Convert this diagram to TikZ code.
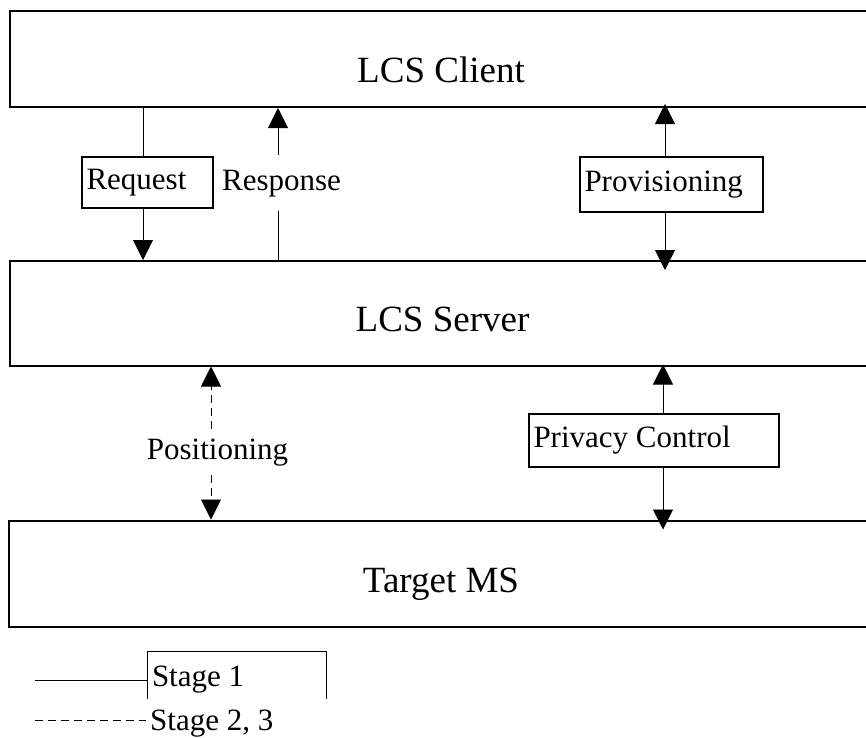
\documentclass[tikz,border=0pt]{standalone}
\usepackage{fontspec}
\setmainfont{Liberation Serif}
\usepackage{tikz}
\usetikzlibrary{arrows.meta,calc}

\tikzset{
    layer/.style={draw, line width=2pt, inner sep=0pt},
    bigtext/.style={anchor=base, inner sep=0pt, font=\fontsize{37}{44}\selectfont},
    tag/.style={draw, line width=1.3pt, inner xsep=4.5pt, inner ysep=0pt, align=flush left,
        text height=21pt, text depth=7pt, font=\fontsize{31}{37}\selectfont},
    note/.style={fill=white, inner xsep=2pt, text height=21pt, text depth=7pt,
        font=\fontsize{31}{37}\selectfont},
    legend/.style={inner xsep=4pt, inner ysep=13pt, align=flush left,
        text height=21pt, text depth=0pt, font=\fontsize{31}{37}\selectfont},
    link/.style={line width=0.9pt},
    tip/.style={-{Triangle[length=20pt,width=20pt]}},
    stagedash/.style={dash pattern=on 8pt off 5pt}
}

\begin{document}
\begin{tikzpicture}[x=1pt, y=-1pt]
            \useasboundingbox (0,0) rectangle (866,737);
            \clip (0,0) rectangle (866,737);

            \node[layer, minimum width=862pt, minimum height=96pt] (CLIENT) at (441,59) {};
            \node[bigtext] (CLIENTT) at (441,82) {LCS Client};
            \node[layer, minimum width=865pt, minimum height=104.5pt] (SERVER) at (442.5,313.25) {};
            \node[bigtext] (SERVERT) at (442.5,331) {LCS Server};
            \node[layer, minimum width=864pt, minimum height=106pt] (TARGET) at (441,573.5) {};
            \node[bigtext] (TARGETT) at (441,592) {Target MS};

            \node[tag, text width=122pt, minimum height=51pt] (REQ) at (147.5,182.5) {Request};
            \node[note, inner ysep=13.5pt] (RESP) at (281.5,183) {Response};
            \node[tag, text width=174pt, minimum height=55pt] (PROV) at (671.5,184.5) {Provisioning};
            \node[note, inner ysep=9pt] (POS) at (217.5,452) {Positioning};
            \node[tag, text width=241pt, minimum height=53pt] (PRIV) at (654,440.5) {Privacy Control};

            \draw[link] ([xshift=-4.5pt]REQ.north) -- ([xshift=-4.5pt]REQ.north |- CLIENT.south);
            \draw[link, tip] ([xshift=-4.5pt]REQ.south) -- ([xshift=-4.5pt]REQ.south |- SERVER.north);

            \draw[link] ([xshift=-3.5pt]RESP.south) -- ([xshift=-3.5pt]RESP.south |- SERVER.north);
            \draw[link, tip] ([xshift=-3.5pt]RESP.north) -- ([xshift=-3.5pt]RESP.north |- CLIENT.south);

            \draw[link, tip, shorten >=-4pt] ([xshift=-6.5pt]PROV.north) -- ([xshift=-6.5pt]PROV.north |- CLIENT.south);
            \draw[link, tip, shorten >=-10pt] ([xshift=-6.5pt]PROV.south) -- ([xshift=-6.5pt]PROV.south |- SERVER.north);

            \draw[link, stagedash, tip] ([xshift=-6.5pt]POS.north) -- ([xshift=-6.5pt]POS.north |- SERVER.south);
            \draw[link, stagedash, tip] ([xshift=-6.5pt]POS.south) -- ([xshift=-6.5pt]POS.south |- TARGET.north);

            \draw[link, tip, shorten >=-2pt] ([xshift=9pt]PRIV.north) -- ([xshift=9pt]PRIV.north |- SERVER.south);
            \draw[link, tip, shorten >=-10pt] ([xshift=9pt]PRIV.south) -- ([xshift=9pt]PRIV.south |- TARGET.north);

            \node[legend, text width=170pt] (STAGE1) at (237,675.5) {Stage 1};
            \node[anchor=base west, inner sep=0pt, font=\fontsize{31}{37}\selectfont] (STAGE2) at (150,730) {Stage 2, 3};
            \coordinate (S1) at (35,680);
            \coordinate (S2) at (35,720);

            \draw[line width=1.3pt] (STAGE1.south west) |- (STAGE1.north east) -- (STAGE1.south east);
            \draw[link] (S1) -- (S1 -| STAGE1.west);
            \draw[link, stagedash] (S2) -- ([xshift=-4pt]S2 -| STAGE2.west);
        \end{tikzpicture}
\end{document}
